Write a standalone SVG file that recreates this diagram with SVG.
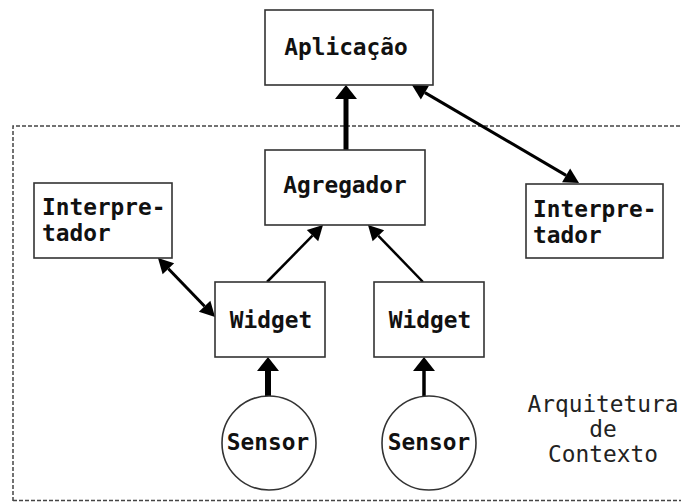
<svg xmlns="http://www.w3.org/2000/svg" width="681" height="502" viewBox="0 0 681 502">
<style>
.box{fill:#fff;stroke:#333;stroke-width:1.6}
.lbl{font-family:"DejaVu Sans Mono","Liberation Mono",monospace;font-weight:bold;font-size:22.8px;fill:#111}
.cap{font-family:"DejaVu Sans Mono","Liberation Mono",monospace;font-size:22.8px;fill:#222;text-anchor:middle}
.c{text-anchor:middle}
.ln{stroke:#000;fill:none}
.dash{stroke:#444;stroke-width:1.5;fill:none;stroke-dasharray:4 2}
</style>
<defs>
<marker id="ah" markerUnits="userSpaceOnUse" orient="auto-start-reverse" overflow="visible" refX="0" refY="0" markerWidth="16" markerHeight="16">
<path d="M0,-8 L15,0 L0,8 z" fill="#000"/>
</marker>
<marker id="ahb" markerUnits="userSpaceOnUse" orient="auto" overflow="visible" refX="0" refY="0" markerWidth="16" markerHeight="22">
<path d="M0,-11 L14,0 L0,11 z" fill="#000"/>
</marker>
</defs>
<rect width="681" height="502" fill="#fff"/>
<g id="contexto">
<path class="dash" d="M13,501 L13,126 L681,126"/>
<path class="dash" d="M13,500.5 L681,500.5" stroke-dasharray="3 9"/>
<text class="cap" x="603" y="412">Arquitetura</text>
<text class="cap" x="603" y="437">de</text>
<text class="cap" x="603" y="462">Contexto</text>
</g>
<g id="connectors">
<line class="ln" x1="346" y1="150" x2="346" y2="99" stroke-width="5" marker-end="url(#ahb)"/>
<line class="ln" x1="424.9" y1="92.6" x2="566.1" y2="175.4" stroke-width="3" marker-start="url(#ah)" marker-end="url(#ah)"/>
<line class="ln" x1="168.4" y1="268.8" x2="204.6" y2="306.2" stroke-width="3" marker-start="url(#ah)" marker-end="url(#ah)"/>
<line class="ln" x1="267" y1="282" x2="312.5" y2="235.7" stroke-width="2.5" marker-end="url(#ah)"/>
<line class="ln" x1="423" y1="282" x2="378.4" y2="235.8" stroke-width="2.5" marker-end="url(#ah)"/>
<line class="ln" x1="268" y1="396" x2="268" y2="371" stroke-width="6" marker-end="url(#ahb)"/>
<line class="ln" x1="424" y1="396" x2="424" y2="371" stroke-width="3.5" marker-end="url(#ahb)"/>
</g>
<g id="aplicacao">
<rect class="box" x="265" y="10" width="168" height="75"/>
<text class="lbl c" x="346" y="55">Aplicação</text>
</g>
<g id="agregador">
<rect class="box" x="265" y="150" width="160" height="75"/>
<text class="lbl c" x="345" y="193">Agregador</text>
</g>
<g id="interpretador-esq">
<rect class="box" x="34" y="183" width="138" height="75"/>
<text class="lbl" x="42" y="215">Interpre-</text>
<text class="lbl" x="42" y="241">tador</text>
</g>
<g id="interpretador-dir">
<rect class="box" x="526" y="184" width="137" height="74"/>
<text class="lbl" x="533" y="217">Interpre-</text>
<text class="lbl" x="533" y="243">tador</text>
</g>
<g id="widget-esq">
<rect class="box" x="215" y="282" width="110" height="75"/>
<text class="lbl c" x="271" y="328">Widget</text>
</g>
<g id="widget-dir">
<rect class="box" x="374" y="282" width="110" height="75"/>
<text class="lbl c" x="430" y="328">Widget</text>
</g>
<g id="sensor-esq">
<circle class="box" cx="269" cy="443" r="47"/>
<text class="lbl c" x="268" y="450">Sensor</text>
</g>
<g id="sensor-dir">
<circle class="box" cx="429" cy="443" r="47"/>
<text class="lbl c" x="429" y="450">Sensor</text>
</g>
</svg>
